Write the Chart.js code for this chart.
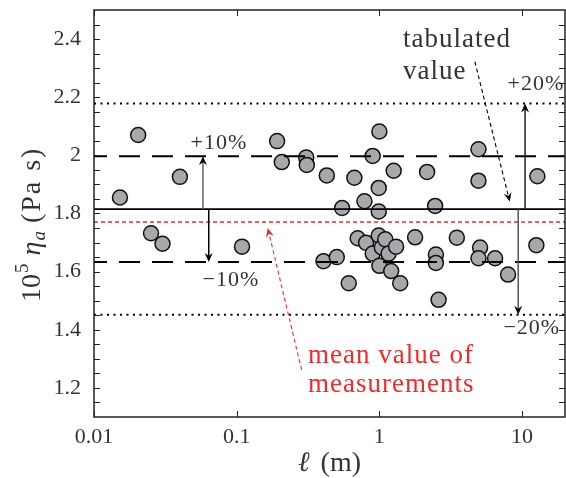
<!DOCTYPE html>
<html>
<head>
<meta charset="utf-8">
<script src="https://cdn.jsdelivr.net/npm/chart.js@4"></script>
<style>
  html, body { margin: 0; padding: 0; background: #fff; }
</style>
</head>
<body>
<canvas id="myChart" width="566" height="478"></canvas>
<script>
// measured length (m) and viscosity (10^5 eta_a in Pa s)
const lengthM = [0.0152, 0.0204, 0.0251, 0.0302, 0.040, 0.109, 0.192, 0.207, 0.307, 0.31,
  0.406, 0.428, 0.503, 0.548, 0.61, 0.668, 0.705, 0.786, 0.807, 0.898,
  0.898, 1.0, 0.99, 0.99, 0.99, 1.0, 1.04, 1.10, 1.16, 1.21,
  1.26, 1.31, 1.40, 1.78, 2.16, 2.46, 2.49, 2.49, 2.60, 3.49,
  4.95, 4.95, 5.08, 4.95, 6.47, 7.98, 12.6, 12.8];
const viscosity = [1.855, 2.07, 1.732, 1.696, 1.926, 1.686, 2.049, 1.977, 1.993, 1.967,
  1.636, 1.931, 1.650, 1.819, 1.560, 1.923, 1.715, 1.842, 1.699, 1.998,
  1.662, 2.082, 1.888, 1.807, 1.724, 1.620, 1.683, 1.711, 1.662, 1.602,
  1.947, 1.686, 1.560, 1.718, 1.943, 1.826, 1.659, 1.630, 1.503, 1.717,
  2.021, 1.913, 1.683, 1.646, 1.646, 1.590, 1.691, 1.928];

const tabulatedValue = 1.815;
const meanValue = 1.771;
const xTicks = [0.01, 0.1, 1, 10];
const xTickLabels = ['0.01', '0.1', '1', '10'];
const yTicks = [1.2, 1.4, 1.6, 1.8, 2.0, 2.2, 2.4];
const yTickLabels = ['1.2', '1.4', '1.6', '1.8', '2', '2.2', '2.4'];

const xMin = 0.01, xMax = 20, yMin = 1.1, yMax = 2.5;
const serif = "'Liberation Serif', 'DejaVu Serif', serif";

function hline(value, style) {
  return Object.assign({
    data: [{ x: xMin, y: value }, { x: xMax, y: value }],
    showLine: true, pointRadius: 0, borderColor: '#000', borderWidth: 2,
    order: 1
  }, style);
}

// arrows and labels, given in data coordinates
const arrows = [
  { from: [0.058, tabulatedValue], to: [0.058, tabulatedValue * 1.1], color: '#666' },
  { from: [0.0637, tabulatedValue], to: [0.0637, tabulatedValue * 0.9], color: '#000' },
  { from: [10.5, tabulatedValue], to: [10.5, tabulatedValue * 1.2], color: '#222' },
  { from: [9.4, tabulatedValue], to: [9.4, tabulatedValue * 0.8], color: '#555' },
  { from: [4.67, 2.322], to: [8.2, 1.841], color: '#000', dash: [4, 3] },
  { from: [0.285, 1.262], to: [0.165, 1.75], color: '#ee2c2c', dash: [4, 3] }
];
const labels = [
  { text: '+10%', x: 0.075, y: 2.043, color: '#333', size: 22, align: 'center' },
  { text: '\u221210%', x: 0.091, y: 1.571, color: '#333', size: 22, align: 'center' },
  { text: '+20%', x: 12.5, y: 2.245, color: '#333', size: 22, align: 'center' },
  { text: '\u221220%', x: 11.7, y: 1.406, color: '#333', size: 22, align: 'center' },
  { text: 'tabulated', px: 403, py: 47, color: '#333', size: 27, align: 'left' },
  { text: 'value', px: 403, py: 79, color: '#333', size: 27, align: 'left' },
  { text: 'mean value of', px: 308, py: 363, color: '#ee2c2c', size: 27, align: 'left' },
  { text: 'measurements', px: 308, py: 392, color: '#ee2c2c', size: 27, align: 'left' }
];

function drawArrow(ctx, x1, y1, x2, y2, color, dash) {
  const ang = Math.atan2(y2 - y1, x2 - x1);
  const len = 9, half = 4;
  ctx.save();
  ctx.strokeStyle = color;
  ctx.lineWidth = dash ? 1.1 : 1.5;
  ctx.setLineDash(dash || []);
  ctx.beginPath();
  ctx.moveTo(x1, y1);
  ctx.lineTo(x2 - Math.cos(ang) * 5, y2 - Math.sin(ang) * 5);
  ctx.stroke();
  ctx.setLineDash([]);
  ctx.translate(x2, y2);
  ctx.rotate(ang);
  ctx.fillStyle = dash ? color : '#000';
  ctx.beginPath();
  ctx.moveTo(0, 0);
  ctx.lineTo(-len, -half);
  ctx.lineTo(-len * 0.65, 0);
  ctx.lineTo(-len, half);
  ctx.closePath();
  ctx.fill();
  ctx.restore();
}

const decorations = {
  id: 'decorations',
  afterDatasetsDraw(chart) {
    const ctx = chart.ctx;
    const xs = chart.scales.x, ys = chart.scales.y;
    const a = chart.chartArea;

    arrows.forEach(ar => {
      drawArrow(ctx, xs.getPixelForValue(ar.from[0]), ys.getPixelForValue(ar.from[1]),
        xs.getPixelForValue(ar.to[0]), ys.getPixelForValue(ar.to[1]), ar.color, ar.dash);
    });

    ctx.save();
    labels.forEach(l => {
      ctx.font = l.size + 'px ' + serif;
      ctx.fillStyle = l.color;
      ctx.textAlign = l.align;
      ctx.letterSpacing = '1px';
      if (l.px !== undefined) {
        ctx.textBaseline = 'alphabetic';
        ctx.fillText(l.text, l.px, l.py);
      } else {
        ctx.textBaseline = 'middle';
        ctx.fillText(l.text, xs.getPixelForValue(l.x), ys.getPixelForValue(l.y));
      }
    });
    ctx.restore();

    // frame and inward ticks
    ctx.save();
    ctx.strokeStyle = '#222';
    ctx.lineWidth = 1.5;
    ctx.strokeRect(a.left, a.top, a.right - a.left, a.bottom - a.top);
    ctx.lineWidth = 1;
    ctx.beginPath();
    for (let v = 1.15; v < yMax - 1e-9; v += 0.05) {
      const py = Math.round(ys.getPixelForValue(v)) + 0.5;
      ctx.moveTo(a.left, py); ctx.lineTo(a.left + 6, py);
      ctx.moveTo(a.right, py); ctx.lineTo(a.right - 6, py);
    }
    xTicks.forEach(v => {
      const px = Math.round(xs.getPixelForValue(v)) + 0.5;
      ctx.moveTo(px, a.bottom); ctx.lineTo(px, a.bottom - 6);
      ctx.moveTo(px, a.top); ctx.lineTo(px, a.top + 6);
    });
    ctx.stroke();
    ctx.restore();
  },
  afterDraw(chart) {
    const ctx = chart.ctx;
    const a = chart.chartArea;
    ctx.save();
    ctx.fillStyle = '#333';
    ctx.textBaseline = 'alphabetic';
    ctx.textAlign = 'left';

    // x axis title
    ctx.font = 'italic 28px ' + serif;
    const ell = '\u2113';
    const w1 = ctx.measureText(ell).width;
    ctx.font = '28px ' + serif;
    const rest = ' (m)';
    const w2 = ctx.measureText(rest).width;
    const x0 = (a.left + a.right) / 2 - (w1 + w2 + 4) / 2;
    ctx.font = 'italic 28px ' + serif;
    ctx.fillText(ell, x0, 471);
    ctx.font = '28px ' + serif;
    ctx.fillText(rest, x0 + w1 + 4, 471);

    // y axis title: 10^5 eta_a (Pa s), rotated
    ctx.translate(40, 302);
    ctx.rotate(-Math.PI / 2);
    const parts = [
      { t: '10', f: '28px ', dy: 0, gap: 0 },
      { t: '5', f: '19px ', dy: -12, gap: 1 },
      { t: '\u03b7', f: 'italic 28px ', dy: 0, gap: 8 },
      { t: 'a', f: 'italic 19px ', dy: 5, gap: 1 },
      { t: '(Pa s)', f: '28px ', dy: 0, gap: 8, sp: '2px' }
    ];
    let cx = 0;
    parts.forEach(p => {
      cx += p.gap;
      ctx.font = p.f + serif;
      ctx.letterSpacing = p.sp || '0px';
      ctx.fillText(p.t, cx, p.dy);
      cx += ctx.measureText(p.t).width;
    });
    ctx.restore();
  }
};

const ctx = document.getElementById('myChart').getContext('2d');

const myChart = new Chart(ctx, {
  type: 'scatter',
  data: {
    datasets: [
      {
        label: 'measurements',
        data: lengthM.map((x, i) => ({ x: x, y: viscosity[i] })),
        pointRadius: 7.5,
        pointBackgroundColor: '#a7a8ac',
        pointBorderColor: '#111',
        pointBorderWidth: 1.5,
        order: 2
      },
      hline(tabulatedValue, { borderWidth: 1.8 }),
      hline(tabulatedValue * 1.1, { borderDash: [21, 12], borderDashOffset: 8 }),
      hline(tabulatedValue * 0.9, { borderDash: [21, 12], borderDashOffset: 8 }),
      hline(tabulatedValue * 1.2, { borderDash: [2, 4.5] }),
      hline(tabulatedValue * 0.8, { borderDash: [2, 4.5] }),
      hline(meanValue, { borderColor: '#ee2c2c', borderWidth: 1.5, borderDash: [4, 3] })
    ]
  },
  options: {
    responsive: false,
    animation: false,
    layout: { autoPadding: false, padding: { top: 10, right: 1, left: 0, bottom: 0 } },
    plugins: { legend: { display: false }, tooltip: { enabled: false } },
    scales: {
      x: {
        type: 'logarithmic',
        min: xMin, max: xMax,
        grid: { display: false, drawTicks: false },
        border: { display: false },
        afterBuildTicks: s => { s.ticks = xTicks.map(v => ({ value: v })); },
        afterFit: s => { s.height = 61; s.paddingLeft = 0; s.paddingRight = 0; },
        ticks: {
          padding: 7,
          color: '#333',
          maxRotation: 0,
          autoSkip: false,
          font: { family: serif, size: 22 },
          callback: (v) => xTickLabels[xTicks.indexOf(v)]
        }
      },
      y: {
        min: yMin, max: yMax,
        grid: { display: false, drawTicks: false },
        border: { display: false },
        afterBuildTicks: s => { s.ticks = yTicks.map(v => ({ value: v })); },
        afterFit: s => { s.width = 94; s.paddingTop = 0; s.paddingBottom = 0; },
        ticks: {
          padding: 13,
          color: '#333',
          autoSkip: false,
          font: { family: serif, size: 22 },
          callback: (v) => yTickLabels[yTicks.findIndex(t => Math.abs(t - v) < 1e-6)]
        }
      }
    }
  },
  plugins: [decorations]
});
</script>
</body>
</html>
